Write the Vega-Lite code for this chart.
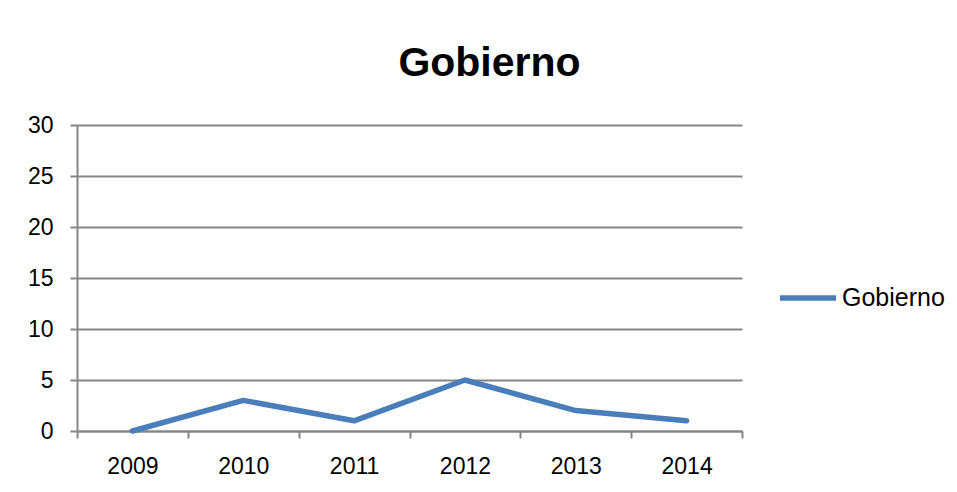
{
  "$schema": "https://vega.github.io/schema/vega-lite/v6.json",
  "width": 665,
  "height": 306,
  "autosize": {"type": "none"},
  "padding": {"left": 77, "top": 125, "right": 215, "bottom": 61},
  "background": "white",
  "title": {
    "text": "Gobierno",
    "font": "Liberation Sans",
    "fontSize": 41,
    "fontWeight": "bold",
    "color": "#000000",
    "anchor": "middle",
    "dx": 80,
    "offset": 29
  },
  "data": {
    "values": [
      {"year": "2009", "value": 0, "series": "Gobierno"},
      {"year": "2010", "value": 3, "series": "Gobierno"},
      {"year": "2011", "value": 1, "series": "Gobierno"},
      {"year": "2012", "value": 5, "series": "Gobierno"},
      {"year": "2013", "value": 2, "series": "Gobierno"},
      {"year": "2014", "value": 1, "series": "Gobierno"}
    ]
  },
  "mark": {"type": "line", "strokeWidth": 5.5, "strokeCap": "round", "strokeJoin": "round"},
  "encoding": {
    "x": {
      "field": "year",
      "type": "ordinal",
      "bandPosition": 0.5,
      "scale": {"type": "band", "paddingInner": 0, "paddingOuter": 0},
      "axis": {
        "title": null,
        "labelAngle": 0,
        "tickBand": "extent",
        "tickSize": 7,
        "tickColor": "#868686",
        "tickWidth": 2,
        "domainColor": "#868686",
        "domainWidth": 2,
        "labelFont": "Liberation Sans",
        "labelFontSize": 23,
        "labelColor": "#000000",
        "labelPadding": 17,
        "grid": false
      }
    },
    "y": {
      "field": "value",
      "type": "quantitative",
      "scale": {"domain": [0, 30]},
      "axis": {
        "title": null,
        "values": [0, 5, 10, 15, 20, 25, 30],
        "tickSize": 7,
        "tickColor": "#868686",
        "tickWidth": 2,
        "domainColor": "#868686",
        "domainWidth": 2,
        "gridColor": "#868686",
        "gridWidth": 2,
        "labelFont": "Liberation Sans",
        "labelFontSize": 23,
        "labelColor": "#000000",
        "labelPadding": 17
      }
    },
    "color": {
      "field": "series",
      "type": "nominal",
      "scale": {"range": ["#4A7EBB"]},
      "legend": {
        "title": null,
        "orient": "none",
        "legendX": 700,
        "legendY": 142,
        "symbolType": "stroke",
        "symbolStrokeWidth": 5.5,
        "symbolSize": 3136,
        "labelFont": "Liberation Sans",
        "labelFontSize": 25,
        "labelColor": "#000000",
        "labelOffset": 3
      }
    }
  },
  "config": {"view": {"stroke": null}}
}
